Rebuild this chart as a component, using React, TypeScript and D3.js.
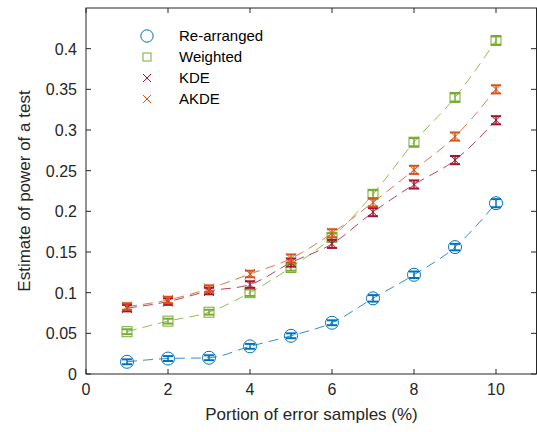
import React from 'react';
import * as d3 from 'd3';

// values
const xs = [1, 2, 3, 4, 5, 6, 7, 8, 9, 10];
const rearranged = [0.015, 0.019, 0.020, 0.034, 0.047, 0.063, 0.093, 0.122, 0.156, 0.210];
const weighted = [0.052, 0.065, 0.076, 0.100, 0.131, 0.168, 0.221, 0.285, 0.340, 0.410];
const kde = [0.081, 0.089, 0.102, 0.110, 0.137, 0.160, 0.199, 0.233, 0.263, 0.312];
const akde = [0.083, 0.091, 0.105, 0.123, 0.142, 0.173, 0.211, 0.251, 0.292, 0.350];
const errRe = [0.003, 0.003, 0.003, 0.003, 0.003, 0.003, 0.004, 0.004, 0.004, 0.005];
const errW = [0.003, 0.003, 0.003, 0.004, 0.004, 0.005, 0.005, 0.005, 0.005, 0.005];
const errK = [0.004, 0.004, 0.004, 0.004, 0.005, 0.005, 0.005, 0.005, 0.005, 0.005];
const errA = [0.004, 0.004, 0.004, 0.004, 0.005, 0.005, 0.005, 0.005, 0.005, 0.005];
const xTicks = [0, 2, 4, 6, 8, 10];
const yTicks = [0, 0.05, 0.1, 0.15, 0.2, 0.25, 0.3, 0.35, 0.4];

const series = [
  { name: 'Re-arranged', vals: rearranged, err: errRe, color: '#0072BD', marker: 'circle' },
  { name: 'Weighted', vals: weighted, err: errW, color: '#77AC30', marker: 'square' },
  { name: 'KDE', vals: kde, err: errK, color: '#A2142F', marker: 'x' },
  { name: 'AKDE', vals: akde, err: errA, color: '#D95319', marker: 'x' },
];

const L = 86, R = 537, T = 8, B = 374;
const font = 'Arial, "Liberation Sans", Helvetica, sans-serif';

function Marker({ kind, cx, cy, color, sc = 1 }: { kind: string; cx: number; cy: number; color: string; sc?: number }) {
  if (kind === 'circle') return <circle cx={cx} cy={cy} r={6.5 * sc} fill="none" stroke={color} strokeWidth={1} />;
  if (kind === 'square') {
    const h = 5 * sc;
    return <rect x={cx - h} y={cy - h} width={2 * h} height={2 * h} fill="none" stroke={color} strokeWidth={1} />;
  }
  const s = 5 * sc;
  return (
    <path d={`M${cx - s},${cy - s}L${cx + s},${cy + s}M${cx - s},${cy + s}L${cx + s},${cy - s}`} stroke={color} strokeWidth={1} fill="none" />
  );
}

export default function App() {
  const x = d3.scaleLinear().domain([0, 11]).range([L, R]);
  const y = d3.scaleLinear().domain([0, 0.45]).range([B, T]);
  const line = d3.line<number>().x((_, i) => x(xs[i])).y((d) => y(d)).curve(d3.curveMonotoneX);

  return (
    <svg width={537} height={432} style={{ position: 'absolute', left: 0, top: 0, fontFamily: font }}>
      <rect width={537} height={432} fill="#fff" />
      {series.map((s) => (
        <path key={s.name} d={line(s.vals) || ''} fill="none" stroke={s.color} strokeOpacity={0.8} strokeWidth={1} strokeDasharray="10,6" />
      ))}
      {series.map((s) => (
        <g key={s.name + 'm'}>
          {s.vals.map((v, i) => {
            const cx = x(xs[i]);
            const y0 = y(v - s.err[i]);
            const y1 = y(v + s.err[i]);
            return (
              <g key={i}>
                <Marker kind={s.marker} cx={cx} cy={y(v)} color={s.color} />
                <line x1={cx} x2={cx} y1={y0} y2={y1} stroke={s.color} strokeWidth={1.5} />
                <line x1={cx - 5} x2={cx + 5} y1={y0} y2={y0} stroke={s.color} strokeWidth={2} />
                <line x1={cx - 5} x2={cx + 5} y1={y1} y2={y1} stroke={s.color} strokeWidth={2} />
              </g>
            );
          })}
        </g>
      ))}
      {/* axes box */}
      <rect x={L} y={T} width={R - L - 0.5} height={B - T} fill="none" stroke="#262626" strokeWidth={1} />
      {xTicks.map((t) => (
        <g key={'x' + t}>
          <line x1={x(t)} x2={x(t)} y1={B} y2={B - 5} stroke="#262626" />
          <line x1={x(t)} x2={x(t)} y1={T} y2={T + 5} stroke="#262626" />
          <text x={x(t)} y={B + 21} textAnchor="middle" fontSize={16} fill="#262626">{t}</text>
        </g>
      ))}
      {yTicks.map((t) => (
        <g key={'y' + t}>
          <line x1={L} x2={L + 5} y1={y(t)} y2={y(t)} stroke="#262626" />
          <line x1={R - 1} x2={R - 6} y1={y(t)} y2={y(t)} stroke="#262626" />
          <text x={L - 9} y={y(t) + 6} textAnchor="end" fontSize={16} fill="#262626">{String(t)}</text>
        </g>
      ))}
      <text x={(L + R) / 2} y={420} textAnchor="middle" fontSize={17} fill="#262626">Portion of error samples (%)</text>
      <text transform={`translate(30,${(T + B) / 2}) rotate(-90)`} textAnchor="middle" fontSize={17} fill="#262626">Estimate of power of a test</text>
      {/* legend */}
      {series.map((s, i) => (
        <g key={s.name + 'l'}>
          <Marker kind={s.marker} cx={147} cy={36 + i * 21} color={s.color} sc={s.marker === 'square' ? 0.8 : s.marker === 'x' ? 0.8 : 0.95} />
          <text x={179} y={41 + i * 21} fontSize={15} fill="#000">{s.name}</text>
        </g>
      ))}
    </svg>
  );
}
